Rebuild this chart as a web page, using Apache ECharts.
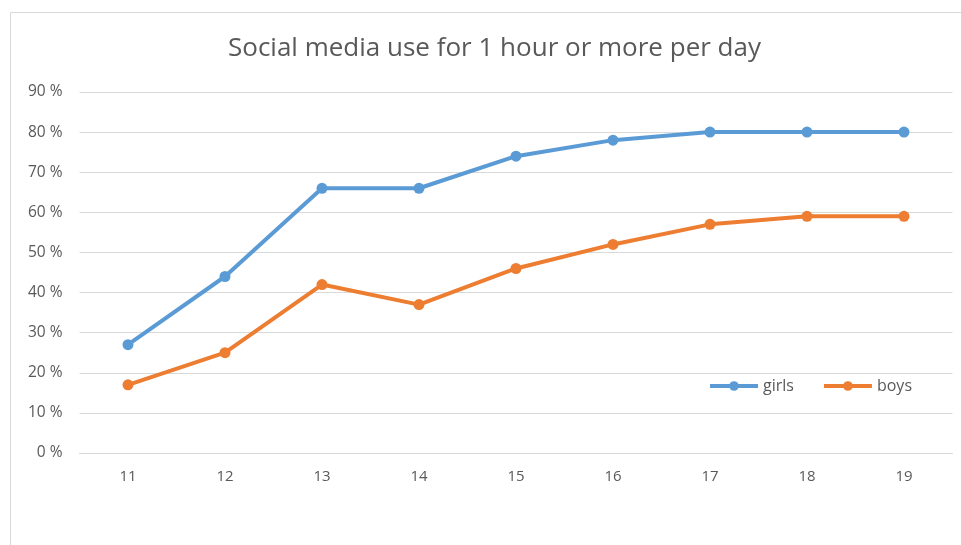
<!DOCTYPE html>
<html><head><meta charset="utf-8">
<script src="https://cdn.jsdelivr.net/npm/echarts@6/dist/echarts.min.js"></script>
<style>html,body{margin:0;padding:0;background:#fff}#c{width:961px;height:545px}</style>
</head><body><div id="c"></div>
<script>
const categories = ['11','12','13','14','15','16','17','18','19'];
const girls = [27, 44, 66, 66, 74, 78, 80, 80, 80];
const boys = [17, 25, 42, 37, 46, 52, 57, 59, 59];
const yTicks = [0, 10, 20, 30, 40, 50, 60, 70, 80, 90];
const titleText = 'Social media use for 1 hour or more per day';

const chart = echarts.init(document.getElementById('c'));
const font = '"Open Sans", "Noto Sans", sans-serif';
chart.setOption({
  animation: false,
  graphic: [{type:'rect', shape:{x:10.5,y:12.5,width:960,height:540}, style:{fill:'none', stroke:'#d9d9d9', lineWidth:1}, z:-1}],
  title: {text: titleText, left: 223, top: 31, textStyle:{fontFamily: font, fontSize: 26, fontWeight:'normal', color:'#595959'}},
  legend: {right: 44, top: 373, itemWidth: 48, itemHeight: 12, itemGap: 28,
    lineStyle: {width: 4},
    textStyle:{fontFamily: font, fontSize: 16, color:'#595959'},
    data:['girls','boys']},
  grid: {left: 79.5, right: 8.5, top: 92, bottom: 92},
  xAxis: {type:'category', data: categories, boundaryGap: true,
    axisLine:{lineStyle:{color:'#d9d9d9'}}, axisTick:{show:false},
    axisLabel:{fontFamily: font, fontSize: 15, color:'#595959', margin: 16}},
  yAxis: {type:'value', min: yTicks[0], max: yTicks[yTicks.length-1], interval: 10,
    axisLine:{show:false}, axisTick:{show:false},
    splitLine:{lineStyle:{color:'#d9d9d9'}},
    axisLabel:{fontFamily: font, fontSize: 15.5, color:'#595959', margin: 17, formatter: v => v + ' %'}},
  series: [
    {name:'girls', type:'line', data: girls, symbol:'circle', symbolSize: 11,
      lineStyle:{width:4, color:'#5B9BD5'}, itemStyle:{color:'#5B9BD5'}},
    {name:'boys', type:'line', data: boys, symbol:'circle', symbolSize: 11,
      lineStyle:{width:4, color:'#ED7D31'}, itemStyle:{color:'#ED7D31'}}
  ]
});
</script></body></html>
